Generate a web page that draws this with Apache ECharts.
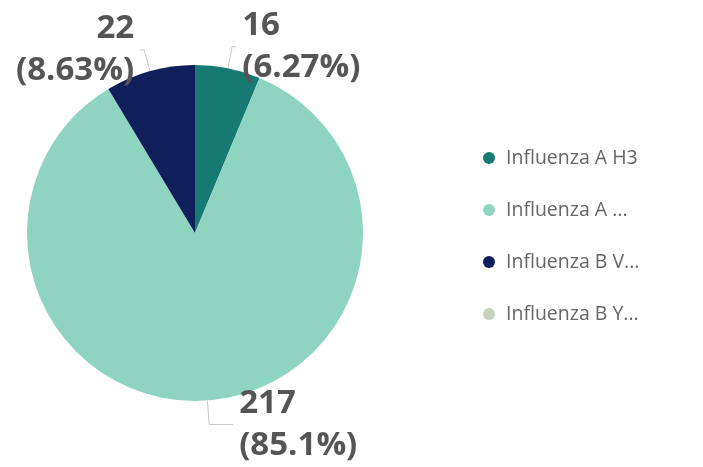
<!DOCTYPE html>
<html><head><meta charset="utf-8">
<script src="https://cdn.jsdelivr.net/npm/echarts@6/dist/echarts.min.js"></script>
<style>html,body{margin:0;padding:0;background:#fff}#c{width:703px;height:467px}</style>
</head><body><div id="c"></div>
<script>
const categories = ["Influenza A H3", "Influenza A ...", "Influenza B V...", "Influenza B Y..."];
const values = [16, 217, 22, 0];
const colors = ["#167a72", "#8fd3c1", "#0f1f5c", "#c9d3b9"];
const lineLen = [[22, 4], [24, 24], [22, 4], [10, 10]];

const chart = echarts.init(document.getElementById('c'));
const data = categories.map((n, i) => {
  const d = { name: n, value: values[i], itemStyle: { color: colors[i] },
    labelLine: { length: lineLen[i][0], length2: lineLen[i][1] } };
  if (values[i] === 0) { d.label = { show: false }; d.labelLine = { show: false }; }
  return d;
});
chart.setOption({
  animation: false,
  backgroundColor: '#fff',
  legend: {
    orient: 'vertical',
    left: 478, top: 143,
    itemWidth: 12, itemHeight: 12, icon: 'circle',
    itemGap: 32,
    textStyle: { fontFamily: 'Open Sans', fontSize: 19.5, color: '#666', padding: [0,0,0,6] },
    data: categories
  },
  series: [{
    type: 'pie',
    center: [195, 233],
    radius: [0, 168],
    startAngle: 90,
    clockwise: true,
    avoidLabelOverlap: false,
    data: data,
    label: {
      show: true,
      position: 'outside',
      formatter: p => p.value + '\n(' + Number(p.percent).toPrecision(3) + '%)',
      fontFamily: 'Open Sans', fontWeight: 'bold', fontSize: 33, lineHeight: 42,
      color: '#555',
      distanceToLabelLine: 6
    },
    labelLine: { show: true, lineStyle: { color: '#c8c8c8', width: 1 } }
  }]
});
</script></body></html>
